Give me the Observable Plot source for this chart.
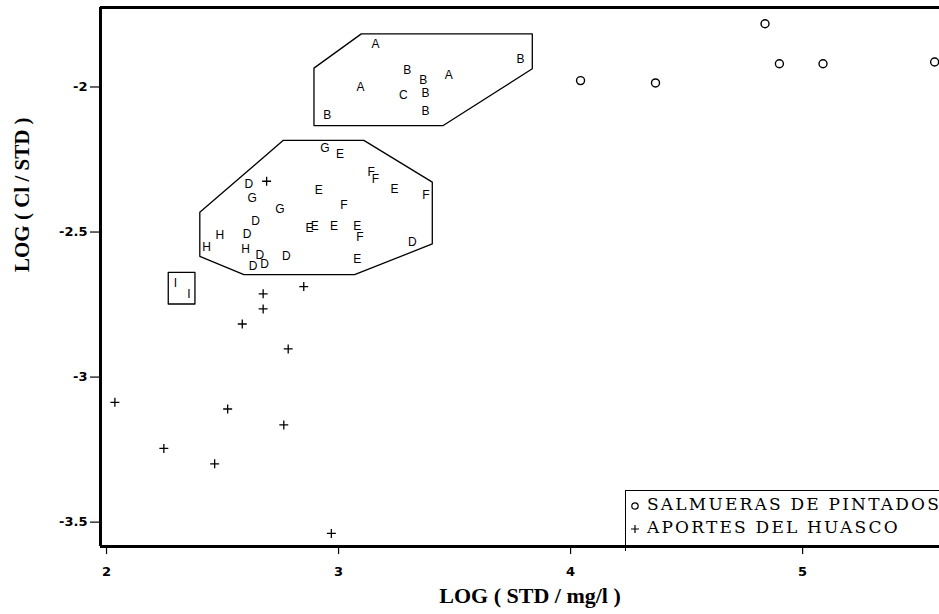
<!DOCTYPE html>
<html><head><meta charset="utf-8">
<script src="https://cdn.jsdelivr.net/npm/d3@7"></script>
<script src="https://cdn.jsdelivr.net/npm/@observablehq/plot@0.6"></script>
<style>
body{margin:0;background:#fff;}
#wrap{position:relative;width:939px;height:614px;overflow:hidden;background:#fff;}
#legend{position:absolute;left:625px;top:490px;width:330px;height:60px;border-left:1.5px solid #000;border-top:1.5px solid #000;font-family:"DejaVu Serif",serif;font-size:17px;letter-spacing:2.2px;color:#000;}
#legend .row{position:absolute;left:0;white-space:nowrap;line-height:20px;}
#legend svg{vertical-align:middle;margin-left:4px;margin-right:7px;}
</style></head><body><div id="wrap"></div>
<script>
// Axis ticks
const xTicks = [2, 3, 4, 5];
const yTicks = [-2, -2.5, -3, -3.5];

// SALMUERAS DE PINTADOS (circles)
const circleX = [4.043, 4.366, 4.838, 4.900, 5.088, 5.569];
const circleY = [-1.978, -1.986, -1.782, -1.920, -1.920, -1.914];

// APORTES DEL HUASCO (plus)
const plusX = [2.690, 2.850, 2.675, 2.675, 2.585, 2.783, 2.036, 2.522, 2.764, 2.247, 2.466, 2.969];
const plusY = [-2.325, -2.688, -2.713, -2.765, -2.817, -2.903, -3.087, -3.110, -3.165, -3.246, -3.299, -3.539];

// Lettered samples
const letterText = ["A","B","B","A","B","A","B","C","B","B",
  "G","E","F","F","D","E","E","F","G","G","F","D","D","H","E","E","E","E","F","D","H","H","D","D","D","D","E",
  "I","I"];
const letterX = [3.159,3.784,3.296,3.475,3.365,3.095,3.375,3.279,2.951,3.375,
  2.941,3.006,3.141,3.159,2.613,2.915,3.241,3.376,2.628,2.747,3.023,2.642,2.606,2.488,2.875,2.897,2.980,3.081,3.092,3.318,2.431,2.599,2.661,2.775,2.632,2.681,3.081,
  2.297,2.355];
const letterY = [-1.854,-1.905,-1.941,-1.958,-1.978,-2.001,-2.021,-2.027,-2.096,-2.084,
  -2.210,-2.233,-2.294,-2.317,-2.334,-2.354,-2.351,-2.374,-2.382,-2.421,-2.409,-2.463,-2.509,-2.511,-2.486,-2.481,-2.481,-2.481,-2.516,-2.535,-2.552,-2.558,-2.581,-2.584,-2.619,-2.612,-2.592,
  -2.677,-2.713];

// Group outlines
const poly1X = [3.098, 3.835, 3.835, 3.451, 2.894, 2.894, 3.098];
const poly1Y = [-1.817, -1.817, -1.937, -2.133, -2.133, -1.935, -1.817];
const poly2X = [2.762, 3.109, 3.404, 3.404, 3.069, 2.592, 2.402, 2.402, 2.762];
const poly2Y = [-2.184, -2.184, -2.328, -2.541, -2.647, -2.647, -2.584, -2.432, -2.184];
const boxIX = [2.266, 2.381, 2.381, 2.266, 2.266];
const boxIY = [-2.639, -2.639, -2.748, -2.748, -2.639];

const xDomain = [1.974, 5.590];
const yDomain = [-3.584, -1.726];

const pts = (xs, ys) => xs.map((x, i) => ({x, y: ys[i]}));
const circles = pts(circleX, circleY);
const pluses = pts(plusX, plusY);
const letters = letterX.map((x, i) => ({x, y: letterY[i], t: letterText[i]}));

const tickFont = {fontSize: 13, fontWeight: "bold", fontFamily: "DejaVu Sans"};

const chart = Plot.plot({
  width: 939, height: 614,
  marginLeft: 100, marginRight: 0, marginTop: 7, marginBottom: 68,
  x: {domain: xDomain},
  y: {domain: yDomain},
  style: {background: "white", color: "black", overflow: "visible"},
  marks: [
    Plot.axisX({ticks: xTicks, tickSize: 8, tickPadding: 12, label: null, tickFormat: d => String(d), strokeWidth: 1.2, ...tickFont}),
    Plot.axisY({ticks: yTicks, tickSize: 10, tickPadding: 3, label: null, tickFormat: d => String(d), strokeWidth: 1.2, ...tickFont}),
    Plot.line(pts(poly1X, poly1Y), {x: "x", y: "y", stroke: "black", strokeWidth: 1.3}),
    Plot.line(pts(poly2X, poly2Y), {x: "x", y: "y", stroke: "black", strokeWidth: 1.3}),
    Plot.line(pts(boxIX, boxIY), {x: "x", y: "y", stroke: "black", strokeWidth: 1.3}),
    Plot.text(letters, {x: "x", y: "y", text: "t", fontSize: 12, fontFamily: "Liberation Sans", fill: "black"}),
    Plot.dot(circles, {x: "x", y: "y", r: 4, stroke: "black", strokeWidth: 1.4, fill: "none"}),
    Plot.dot(pluses, {x: "x", y: "y", symbol: "plus", r: 3, stroke: "black", strokeWidth: 1.3}),
    Plot.ruleX([xDomain[0]], {stroke: "black", strokeWidth: 3}),
    Plot.ruleY(yDomain, {stroke: "black", strokeWidth: 3}),
    Plot.text(["LOG ( STD / mg/l )"], {frameAnchor: "bottom", dy: 56, dx: 10, fontSize: 22, fontWeight: "bold", fontFamily: "Liberation Serif", fill: "black"}),
    Plot.text(["LOG ( Cl / STD )"], {frameAnchor: "left", dx: -78, dy: -5, rotate: -90, fontSize: 21, fontWeight: "bold", fontFamily: "Liberation Serif", fill: "black"})
  ]
});
const wrap = document.getElementById("wrap");
wrap.appendChild(chart);

const legend = document.createElement("div");
legend.id = "legend";
legend.innerHTML =
  '<div class="row" style="top:3px"><svg width="10" height="10"><circle cx="5" cy="5" r="3.2" fill="none" stroke="#000" stroke-width="1.2"/></svg>SALMUERAS DE PINTADOS</div>' +
  '<div class="row" style="top:26px"><svg width="10" height="10"><path d="M1,5H9M5,1V9" stroke="#000" stroke-width="1.2"/></svg>APORTES DEL HUASCO</div>';
wrap.appendChild(legend);
</script>
</body></html>
